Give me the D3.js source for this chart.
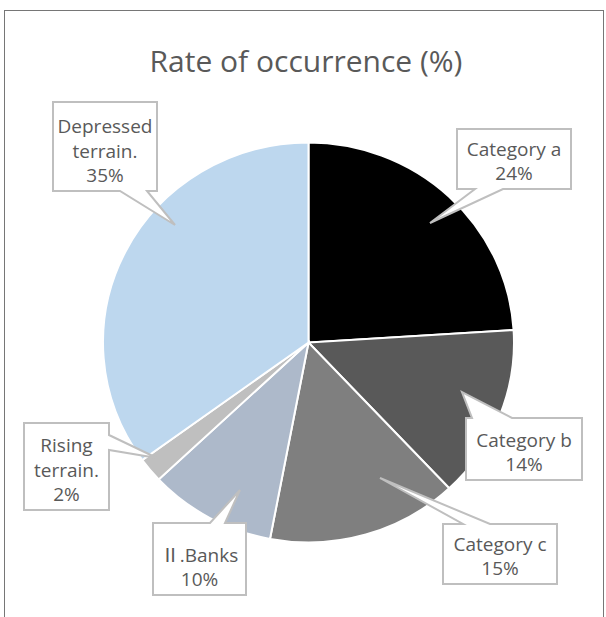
<!DOCTYPE html>
<html>
<head>
<meta charset="utf-8">
<script src="https://cdn.jsdelivr.net/npm/d3@7"></script>
<style>
  body { margin: 0; background: #fff; }
  text { font-family: 'Open Sans', sans-serif; fill: #595959; }
</style>
</head>
<body>
<div class="chart"></div>
<script>
var width = 606
var height = 617

// data
var categories = ['Category a', 'Category b', 'Category c', 'Ⅱ.Banks', 'Rising terrain.', 'Depressed terrain.']
var values = [24, 14, 15, 10, 2, 35]
var labelLines = [
    ['Category a', '24%'],
    ['Category b', '14%'],
    ['Category c', '15%'],
    ['Ⅱ.Banks', '10%'],
    ['Rising', 'terrain.', '2%'],
    ['Depressed', 'terrain.', '35%']
]
var colors = ['#000000', '#595959', '#7f7f7f', '#adb9ca', '#bfbfbf', '#bdd7ee']

// callout boxes: box, pointer edge + base, tip
var callouts = [
    { x: 457, y: 129, w: 114, h: 60, edge: 'bottom', b0: 475, b1: 503, tip: [430, 223] },
    { x: 466, y: 418, w: 116, h: 62, edge: 'top', b0: 472, b1: 512, tip: [462, 392] },
    { x: 443, y: 524, w: 114, h: 60, edge: 'top', b0: 463, b1: 490, tip: [380, 478] },
    { x: 153, y: 523, w: 93, h: 72, edge: 'top', b0: 210, b1: 225, tip: [240, 490] },
    { x: 24, y: 423, w: 85, h: 87, edge: 'right', b0: 435, b1: 450, tip: [157, 458] },
    { x: 53, y: 102, w: 104, h: 89, edge: 'bottom', b0: 120, b1: 147, tip: [175, 225] }
]

var cx = 308.5, cy = 342.5, ry = 200, rx = 205.5

var svg = d3.select('.chart').append('svg')
    .attr('width', width)
    .attr('height', height)

// chart frame
svg.append('rect')
    .attr('x', 4.5).attr('y', 10.5)
    .attr('width', 599).attr('height', 620)
    .attr('fill', 'none')
    .attr('stroke', '#767676')

svg.append('text')
    .attr('x', 306).attr('y', 72)
    .attr('text-anchor', 'middle')
    .attr('font-size', 30)
    .text('Rate of occurrence (%)')

var pie = d3.pie().sort(null).value(function (d) { return d })
var arc = d3.arc().innerRadius(0).outerRadius(ry)

var g = svg.append('g')
    .attr('transform', 'translate(' + cx + ',' + cy + ') scale(' + (rx / ry) + ',1)')

g.selectAll('path')
    .data(pie(values))
    .enter()
    .append('path')
    .attr('d', arc)
    .attr('fill', function (d, i) { return colors[i] })
    .attr('stroke', '#fff')
    .attr('stroke-width', 2)
    .attr('vector-effect', 'non-scaling-stroke')

function calloutPath(c) {
    var x0 = c.x, y0 = c.y, x1 = c.x + c.w, y1 = c.y + c.h
    var pts = []
    pts.push([x0, y0])
    if (c.edge === 'top') pts.push([c.b0, y0], c.tip, [c.b1, y0])
    pts.push([x1, y0])
    if (c.edge === 'right') pts.push([x1, c.b0], c.tip, [x1, c.b1])
    pts.push([x1, y1])
    if (c.edge === 'bottom') pts.push([c.b1, y1], c.tip, [c.b0, y1])
    pts.push([x0, y1])
    if (c.edge === 'left') pts.push([x0, c.b1], c.tip, [x0, c.b0])
    return d3.line()(pts) + 'Z'
}

var labels = svg.selectAll('.callout')
    .data(callouts)
    .enter()
    .append('g')
    .attr('class', 'callout')

labels.append('path')
    .attr('d', calloutPath)
    .attr('fill', '#fff')
    .attr('stroke', '#bfbfbf')
    .attr('stroke-width', 2)

labels.each(function (c, i) {
    var lines = labelLines[i]
    var lh = 24.5
    var t = d3.select(this).append('text')
        .attr('text-anchor', 'middle')
        .attr('font-size', 19)
    lines.forEach(function (s, j) {
        var y = c.y + c.h - 9 - (lines.length - 1 - j) * lh
        var span = t.append('tspan')
            .attr('x', c.x + c.w / 2)
            .attr('y', y)
        if (s.charAt(0) === 'Ⅱ') {
            // full-width roman numeral, as in the original
            span.style('font-family', "'Noto Sans CJK JP'").text('Ⅱ')
            t.append('tspan').text(s.slice(1))
        } else {
            span.text(s)
        }
    })
})
</script>
</body>
</html>
